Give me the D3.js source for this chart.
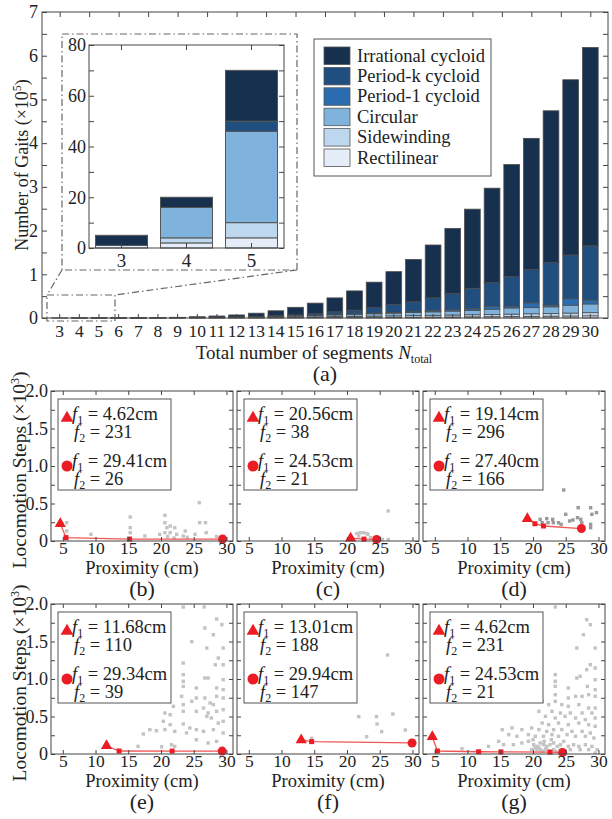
<!DOCTYPE html>
<html>
<head>
<meta charset="utf-8">
<script src="https://cdn.jsdelivr.net/npm/d3@7"></script>
<style>
  body { margin: 0; background: #fff; }
  svg { display: block; }
  text { font-family: "Liberation Serif", "Times New Roman", serif; fill: #222; }
</style>
</head>
<body>
<svg id="fig" width="612" height="819"></svg>
<script>
// ---------- (a) number of gaits per total segment count ----------
const segments = [3,4,5,6,7,8,9,10,11,12,13,14,15,16,17,18,19,20,21,22,23,24,25,26,27,28,29,30];
const rectilinear = [1,2,4,10,30,60,100,150,220,300,400,550,700,900,1100,1300,1500,1700,1900,2100,2400,2700,3000,3300,3700,4100,4500,5000];
const sidewinding = [0,2,6,20,50,100,180,280,400,550,750,1000,1300,1600,2000,2400,2800,3200,3600,4000,4400,4800,5200,5600,6000,6400,6800,7200];
const circular = [0,12,36,60,120,220,380,600,900,1200,1600,2100,2700,3300,4000,4700,5500,6300,7200,8000,9000,10000,12000,14000,14000,15000,18000,20000];
const period1 = [0,0,0,10,20,40,70,100,150,200,300,400,500,700,900,1200,1500,1800,2200,2600,3000,3500,7000,4000,11000,4000,15000,9000];
const periodK = [0,0,4,10,20,40,70,120,200,300,500,950,1800,3500,6000,8400,12700,18000,22100,29300,37200,47000,53800,68100,76300,97500,99700,123800];
const irrational = [4,4,20,90,160,340,800,1750,2730,4450,7450,11500,17500,24000,32000,44000,58000,75000,97000,121000,149000,181000,216000,256000,300000,347000,401000,454000];

const gaitTypes = ["Rectilinear", "Sidewinding", "Circular", "Period-1 cycloid", "Period-k cycloid", "Irrational cycloid"];
const gaitColors = ["#e5edf8", "#bdd7ef", "#80b2de", "#2b6cb0", "#1f4e7f", "#16304e"];
const gaitSeries = [rectilinear, sidewinding, circular, period1, periodK, irrational];

const mainTicks = [0,1,2,3,4,5,6,7];
const insetSegments = [3,4,5];
const insetTicks = [0,20,40,60,80];

// ---------- (b)-(g) locomotion steps vs proximity ----------
const proximityTicks = [5,10,15,20,25,30];
const stepTicks = [0,500,1000,1500,2000];
const stepTickLabels = ["0","0.5","1.0","1.5","2.0"];

const frontB = [[4.62,231],[5.5,45],[15.2,26],[29.41,26]];
const frontC = [[20.56,38],[22.6,25],[24.53,21]];
const frontD = [[19.14,296],[20.3,230],[21.6,200],[27.40,166]];
const frontE = [[11.68,110],[13.6,40],[21.7,39],[29.34,39]];
const frontF = [[13.01,188],[14.6,165],[29.94,147]];
const frontG = [[4.62,231],[5.4,40],[11.7,30],[15.1,28],[22.6,25],[24.53,21]];

const pointsB = [[5.6,245],[5.6,134],[9.3,89],[15.3,320],[15.3,178],[15.3,111],[17.55,67],[19.8,89],[20.6,342],[20.6,244],[20.9,178],[21.4,200],[22.1,178],[20.6,111],[21.4,111],[22.4,89],[23.4,67],[23.7,133],[25.2,89],[25.85,511],[26.8,244],[26.9,111],[21.0,60],[22.0,40],[24.0,50],[25.9,245],[28.5,60]];
const pointsC = [[26.3,400],[22.0,111],[22.5,111],[23.2,89],[21.8,67],[23.6,44],[25.4,22],[26.3,22],[21.5,100],[23.0,100]];
const pointsD = [[21.1,289],[21.4,244],[22.1,298],[22.3,244],[23.0,289],[23.1,244],[23.9,244],[24.3,222],[24.7,680],[25.0,356],[25.6,267],[26.1,280],[26.9,444],[26.8,311],[27.3,289],[27.45,244],[28.8,444],[29.0,356],[28.8,222],[28.8,178],[29.7,378]];
const pointsE = [[23.4,1960],[26.6,1960],[28.5,1800],[29.3,1725],[26.7,1680],[28.0,1590],[27.0,1413],[29.5,1413],[28.75,1280],[23.4,1213],[28.3,1190],[29.5,1190],[23.4,1058],[26.7,1013],[27.2,1013],[29.5,991],[23.4,969],[23.4,902],[25.4,880],[28.5,880],[29.5,858],[23.15,769],[25.4,747],[26.7,747],[28.5,769],[29.5,747],[20.6,547],[21.9,636],[23.4,658],[24.7,702],[27.5,680],[26.5,613],[28.0,658],[21.4,524],[23.4,569],[25.4,569],[27.2,547],[28.5,569],[29.5,591],[20.35,436],[21.4,391],[23.4,400],[24.4,347],[27.0,502],[27.7,480],[28.75,413],[29.5,436],[17.3,267],[18.3,325],[19.3,311],[20.6,325],[22.1,302],[23.9,280],[25.4,325],[26.5,302],[28.0,325],[29.5,280],[16.5,102],[20.1,97],[22.1,102],[21.6,124],[28.5,169],[27.2,147],[25.4,191],[24.7,1497]];
const pointsF = [[14.6,209],[21.8,498],[23.0,231],[24.5,498],[24.6,400],[25.3,298],[27.0,533],[26.2,1320],[28.9,320]];
const pointsG = [[23.4,1960],[28.2,1791],[28.75,1725],[27.7,1590],[26.7,1413],[29.5,1413],[28.75,1191],[28.2,1125],[29.5,1147],[23.4,1058],[26.7,1013],[27.2,1036],[23.4,969],[29.5,991],[23.4,902],[25.4,880],[28.3,902],[29.5,858],[23.4,791],[26.5,769],[27.5,769],[28.5,791],[29.5,769],[25.4,747],[23.4,702],[21.4,702],[22.4,658],[24.4,658],[25.4,636],[27.0,658],[28.5,613],[29.5,613],[20.9,569],[22.9,569],[24.2,547],[25.7,547],[27.5,547],[29.0,547],[21.9,502],[23.4,480],[24.9,502],[26.5,480],[28.0,458],[29.5,480],[21.4,413],[22.4,391],[23.9,413],[25.4,391],[27.0,413],[28.5,391],[29.5,369],[15.3,325],[16.8,347],[18.3,325],[19.8,347],[20.9,325],[22.1,302],[23.15,325],[24.4,325],[25.95,302],[27.5,302],[28.75,280],[16.3,258],[17.55,236],[19.3,258],[20.35,236],[21.6,236],[22.9,258],[23.9,236],[25.2,258],[26.5,236],[28.0,236],[29.3,213],[9.16,71],[13.2,102],[14.75,169],[15.5,124],[17.0,124],[18.3,147],[19.3,169],[20.1,124],[20.6,102],[21.1,147],[21.6,124],[22.1,102],[22.6,124],[23.15,147],[23.7,102],[24.2,124],[24.7,169],[25.4,102],[26.2,124],[27.0,102],[28.0,124],[29.0,102],[19.8,58],[20.6,58],[21.1,58],[21.9,58],[23.15,58],[24.2,58],[25.7,58],[27.2,58],[28.5,58],[29.8,58],[29.5,13],[20.3,80],[20.9,90],[21.4,40],[22.0,75],[22.5,40],[21.7,170],[20.0,190],[22.8,190],[23.5,35]];

const panelLabels = ["(b)","(c)","(d)","(e)","(f)","(g)"];
const panelFronts = [frontB, frontC, frontD, frontE, frontF, frontG];
const panelPoints = [pointsB, pointsC, pointsD, pointsE, pointsF, pointsG];

// ---------- drawing ----------
const svg = d3.select("#fig");
const axisColor = "#444";
const red = "#ec1c24";
const redLine = "#f25555";

// Main bar chart
const box = {left: 42, right: 608, top: 12, bottom: 318};
const xBar = d3.scaleBand().domain(segments).range([box.left, box.right]).paddingInner(0.2).paddingOuter(0.5);
const yBar = d3.scaleLinear().domain([0, 7]).range([box.bottom, box.top]);

const barRows = segments.map((n, i) => {
  const row = {n};
  gaitTypes.forEach((k, j) => { row[k] = gaitSeries[j][i] / 1e5; });
  return row;
});
const stacked = d3.stack().keys(gaitTypes)(barRows);

const gBars = svg.append("g");
stacked.forEach((layer, j) => {
  gBars.append("g").selectAll("rect").data(layer).join("rect")
    .attr("x", d => xBar(d.data.n))
    .attr("width", xBar.bandwidth())
    .attr("y", d => yBar(d[1]))
    .attr("height", d => Math.max(0, yBar(d[0]) - yBar(d[1])))
    .attr("fill", gaitColors[j])
    .attr("stroke", "#4d4d4d")
    .attr("stroke-width", 0.8);
});

// axes of the main chart (inward ticks on all sides)
function styleAxis(sel, size) {
  sel.select(".domain").remove();
  sel.selectAll(".tick line").attr("stroke", axisColor);
  sel.selectAll(".tick text").attr("font-size", size).attr("fill", "#222")
    .attr("font-family", '"Liberation Serif","Times New Roman",serif');
}
const halfSteps = d3.range(0, 7.01, 0.5);
svg.append("g").attr("transform", `translate(${box.left},0)`)
  .call(d3.axisLeft(yBar).tickValues(halfSteps).tickSize(-5).tickFormat(""))
  .call(s => styleAxis(s, 16));
svg.append("g").attr("transform", `translate(${box.left},0)`)
  .call(d3.axisLeft(yBar).tickValues(mainTicks).tickSize(0).tickPadding(4).tickFormat(d3.format("d")))
  .call(s => styleAxis(s, 18));
svg.append("g").attr("transform", `translate(${box.right},0)`)
  .call(d3.axisRight(yBar).tickValues(halfSteps).tickSize(-5).tickFormat(""))
  .call(s => styleAxis(s, 16));
svg.append("g").attr("transform", `translate(0,${box.bottom})`)
  .call(d3.axisBottom(xBar).tickSize(-4).tickPadding(7))
  .call(s => styleAxis(s, 17.5));
const segLinear = d3.scaleLinear().domain([3, 30])
  .range([xBar(3) + xBar.bandwidth() / 2, xBar(30) + xBar.bandwidth() / 2]);
svg.append("g").attr("transform", `translate(0,${box.top})`)
  .call(d3.axisTop(segLinear).tickValues(d3.range(3, 30.01, 1.5)).tickSize(-5).tickFormat(""))
  .call(s => styleAxis(s, 16));
svg.append("rect").attr("x", box.left).attr("y", box.top)
  .attr("width", box.right - box.left).attr("height", box.bottom - box.top)
  .attr("fill", "none").attr("stroke", axisColor).attr("stroke-width", 1);

// axis titles
const yTitle = svg.append("text").attr("transform", `translate(28,${(box.top + box.bottom) / 2}) rotate(-90)`)
  .attr("text-anchor", "middle").attr("font-size", 18);
yTitle.append("tspan").text("Number of Gaits (×10");
yTitle.append("tspan").attr("dy", -7).attr("font-size", 12).text("5");
yTitle.append("tspan").attr("dy", 7).text(")");

const xTitle = svg.append("text").attr("x", 314).attr("y", 359).attr("text-anchor", "middle").attr("font-size", 19);
xTitle.append("tspan").text("Total number of segments ");
xTitle.append("tspan").attr("font-style", "italic").text("N");
xTitle.append("tspan").attr("dy", 4).attr("font-size", 12).text("total");
svg.append("text").attr("x", 325).attr("y", 381).attr("text-anchor", "middle").attr("font-size", 22).text("(a)");

// legend
const leg = {x: 314, y: 39, w: 177, h: 137};
svg.append("rect").attr("x", leg.x).attr("y", leg.y).attr("width", leg.w).attr("height", leg.h)
  .attr("fill", "#fff").attr("stroke", "#555").attr("stroke-width", 1);
const legOrder = gaitTypes.map((k, j) => ({k, c: gaitColors[j]})).reverse();
legOrder.forEach((d, i) => {
  const yy = leg.y + 8 + i * 20.4;
  svg.append("rect").attr("x", leg.x + 10).attr("y", yy).attr("width", 26).attr("height", 17.5)
    .attr("fill", d.c).attr("stroke", "#555").attr("stroke-width", 0.8);
  svg.append("text").attr("x", leg.x + 43).attr("y", yy + 14.5).attr("font-size", 18.5).text(d.k);
});

// zoom indicator and inset for N = 3..5
const dash = "7,3,1.5,3";
const zoomBox = {x0: 47, x1: 115, y0: 295, y1: 321};
const insetFrame = {x0: 62, x1: 297, y0: 34, y1: 270};
svg.append("rect").attr("x", zoomBox.x0).attr("y", zoomBox.y0)
  .attr("width", zoomBox.x1 - zoomBox.x0).attr("height", zoomBox.y1 - zoomBox.y0)
  .attr("fill", "none").attr("stroke", "#666").attr("stroke-width", 1.2).attr("stroke-dasharray", dash);
svg.append("rect").attr("x", insetFrame.x0).attr("y", insetFrame.y0)
  .attr("width", insetFrame.x1 - insetFrame.x0).attr("height", insetFrame.y1 - insetFrame.y0)
  .attr("fill", "none").attr("stroke", "#666").attr("stroke-width", 1.2).attr("stroke-dasharray", dash);
[[insetFrame.x0, zoomBox.x0], [insetFrame.x1, zoomBox.x1]].forEach(([a, b]) => {
  svg.append("line").attr("x1", a).attr("y1", insetFrame.y1).attr("x2", b).attr("y2", zoomBox.y0)
    .attr("stroke", "#666").attr("stroke-width", 1.2).attr("stroke-dasharray", dash);
});

const ib = {left: 89, right: 284, top: 45, bottom: 248};
const xIn = d3.scaleBand().domain(insetSegments).range([ib.left, ib.right]).paddingInner(0.2).paddingOuter(0.1);
const yIn = d3.scaleLinear().domain([0, 80]).range([ib.bottom, ib.top]);
const insetRows = insetSegments.map(n => {
  const i = segments.indexOf(n);
  const row = {n};
  gaitTypes.forEach((k, j) => { row[k] = gaitSeries[j][i]; });
  return row;
});
const insetStack = d3.stack().keys(gaitTypes)(insetRows);
const gIn = svg.append("g");
insetStack.forEach((layer, j) => {
  gIn.append("g").selectAll("rect").data(layer.filter(d => d[1] > d[0])).join("rect")
    .attr("x", d => xIn(d.data.n))
    .attr("width", xIn.bandwidth())
    .attr("y", d => yIn(d[1]))
    .attr("height", d => yIn(d[0]) - yIn(d[1]))
    .attr("fill", gaitColors[j])
    .attr("stroke", "#555")
    .attr("stroke-width", 1);
});
const insetMinor = d3.range(0, 80.01, 10);
svg.append("g").attr("transform", `translate(${ib.left},0)`)
  .call(d3.axisLeft(yIn).tickValues(insetMinor).tickSize(-5).tickFormat(""))
  .call(s => styleAxis(s, 17));
svg.append("g").attr("transform", `translate(${ib.left},0)`)
  .call(d3.axisLeft(yIn).tickValues(insetTicks).tickSize(0).tickPadding(3))
  .call(s => styleAxis(s, 18));
svg.append("g").attr("transform", `translate(${ib.right},0)`)
  .call(d3.axisRight(yIn).tickValues(insetMinor).tickSize(-5).tickFormat(""))
  .call(s => styleAxis(s, 17));
svg.append("g").attr("transform", `translate(0,${ib.bottom})`)
  .call(d3.axisBottom(xIn).tickSize(-5).tickPadding(6))
  .call(s => styleAxis(s, 19));
svg.append("g").attr("transform", `translate(0,${ib.top})`)
  .call(d3.axisTop(xIn).tickSize(-5).tickFormat(""))
  .call(s => styleAxis(s, 17));
svg.append("rect").attr("x", ib.left).attr("y", ib.top)
  .attr("width", ib.right - ib.left).attr("height", ib.bottom - ib.top)
  .attr("fill", "none").attr("stroke", axisColor).attr("stroke-width", 1);

// ---------- panels (b)-(g) ----------
const panelLefts = [51, 237, 423];
const panelTops = [391, 604];
const panelW = 182, panelH = 150;
const proxDomain = [3.2, 31];

function fText(sel, x, y, sub, value) {
  const t = sel.append("text").attr("x", x).attr("y", y).attr("font-size", 18.5);
  t.append("tspan").attr("font-style", "italic").text("f");
  t.append("tspan").attr("font-size", 12).attr("dy", 4).text(sub);
  t.append("tspan").attr("dy", -4).text(" = " + value);
}

panelLabels.forEach((label, p) => {
  const col = p % 3, row = Math.floor(p / 3);
  const L = panelLefts[col], T = panelTops[row], B = T + panelH;
  const x = d3.scaleLinear().domain(proxDomain).range([L, L + panelW]);
  const y = d3.scaleLinear().domain([0, 2000]).range([B, T]);
  const g = svg.append("g");
  const clipId = "clip" + p;
  g.append("clipPath").attr("id", clipId).append("rect")
    .attr("x", L).attr("y", T).attr("width", panelW).attr("height", panelH);

  // all candidate gaits
  const pointColor = p === 2 ? "#9a9a9a" : "#c3c3c3";
  g.append("g").attr("clip-path", `url(#${clipId})`).selectAll("rect").data(panelPoints[p]).join("rect")
    .attr("x", d => x(d[0]) - 1.7).attr("y", d => y(d[1]) - 1.7)
    .attr("width", 3.4).attr("height", 3.4).attr("fill", pointColor);

  // Pareto front
  const front = panelFronts[p];
  g.append("path").datum(front)
    .attr("d", d3.line().x(d => x(d[0])).y(d => y(d[1])))
    .attr("fill", "none").attr("stroke", redLine).attr("stroke-width", 1.3);
  g.selectAll("rect.mid").data(front.slice(1, -1)).join("rect").attr("class", "mid")
    .attr("x", d => x(d[0]) - 2.5).attr("y", d => y(d[1]) - 2.5)
    .attr("width", 5).attr("height", 5).attr("fill", red);
  const first = front[0], last = front[front.length - 1];
  g.append("path").attr("d", d3.symbol(d3.symbolTriangle, 55)())
    .attr("transform", `translate(${x(first[0])},${y(first[1])})`).attr("fill", red);
  g.append("circle").attr("cx", x(last[0])).attr("cy", y(last[1])).attr("r", 4.5).attr("fill", red);

  // axes
  const minorSteps = d3.range(0, 2000.1, 250);
  g.append("g").attr("transform", `translate(${L},0)`)
    .call(d3.axisLeft(y).tickValues(minorSteps).tickSize(-4).tickFormat(""))
    .call(s => styleAxis(s, 16));
  g.append("g").attr("transform", `translate(${L + panelW},0)`)
    .call(d3.axisRight(y).tickValues(minorSteps).tickSize(-4).tickFormat(""))
    .call(s => styleAxis(s, 16));
  if (col === 0) {
    g.append("g").attr("transform", `translate(${L},0)`)
      .call(d3.axisLeft(y).tickValues(stepTicks).tickSize(0).tickPadding(3)
        .tickFormat((d, i) => stepTickLabels[i]))
      .call(s => styleAxis(s, 18));
  }
  g.append("g").attr("transform", `translate(0,${B})`)
    .call(d3.axisBottom(x).tickValues(proximityTicks).tickSize(-4).tickPadding(1))
    .call(s => styleAxis(s, 17.5));
  g.append("g").attr("transform", `translate(0,${T})`)
    .call(d3.axisTop(x).tickValues(proximityTicks).tickSize(-4).tickFormat(""))
    .call(s => styleAxis(s, 16));
  g.append("rect").attr("x", L).attr("y", T).attr("width", panelW).attr("height", panelH)
    .attr("fill", "none").attr("stroke", axisColor).attr("stroke-width", 1);

  // legend of the two extreme gaits
  const bx = L + 7, by = T + 8;
  g.append("rect").attr("x", bx).attr("y", by).attr("width", 113).attr("height", 91)
    .attr("fill", "#fff").attr("stroke", "#555").attr("stroke-width", 1);
  g.append("path").attr("d", d3.symbol(d3.symbolTriangle, 70)())
    .attr("transform", `translate(${bx + 9},${by + 19})`).attr("fill", red);
  g.append("circle").attr("cx", bx + 9).attr("cy", by + 67).attr("r", 5.5).attr("fill", red);
  fText(g, bx + 14, by + 21, "1", first[0].toFixed(2) + "cm");
  fText(g, bx + 16, by + 39, "2", String(first[1]));
  fText(g, bx + 14, by + 68, "1", last[0].toFixed(2) + "cm");
  fText(g, bx + 16, by + 86, "2", String(last[1]));

  // titles
  g.append("text").attr("x", L + panelW / 2).attr("y", B + 33).attr("text-anchor", "middle")
    .attr("font-size", 18.5).text("Proximity (cm)");
  g.append("text").attr("x", L + panelW / 2).attr("y", B + 55).attr("text-anchor", "middle")
    .attr("font-size", 22).text(label);
  if (col === 0) {
    const t = g.append("text").attr("transform", `translate(26,${(T + B) / 2 + 4}) rotate(-90)`)
      .attr("text-anchor", "middle").attr("font-size", 19.5);
    t.append("tspan").text("Locomotion Steps (×10");
    t.append("tspan").attr("dy", -7).attr("font-size", 12).text("3");
    t.append("tspan").attr("dy", 7).text(")");
  }
});
</script>
</body>
</html>
